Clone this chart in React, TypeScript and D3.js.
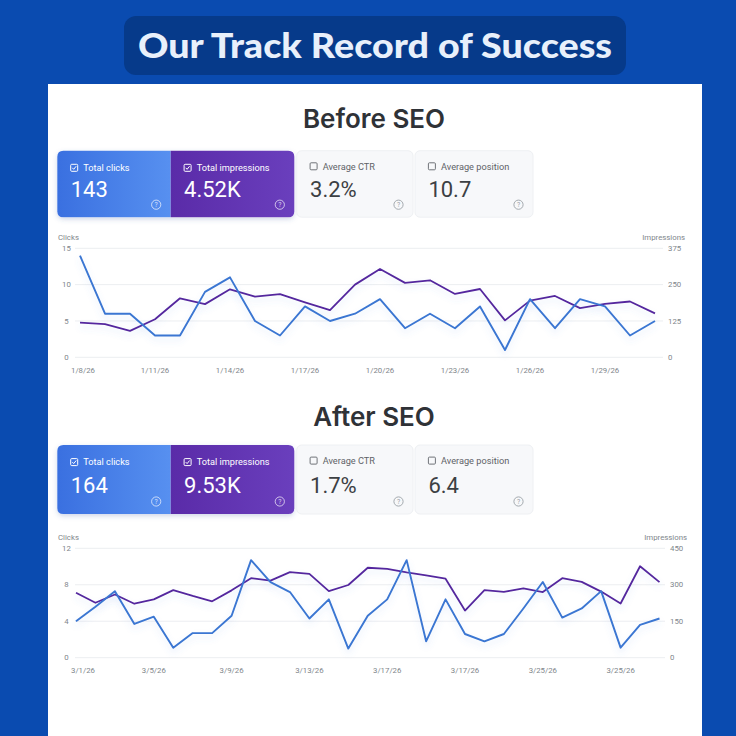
import React from "react";
import * as d3 from "d3";

// ---------- DATA ----------
const metricLabels = ["Total clicks", "Total impressions", "Average CTR", "Average position"];
const beforeValues = ["143", "4.52K", "3.2%", "10.7"];
const afterValues = ["164", "9.53K", "1.7%", "6.4"];

const beforeDates = [
  "1/8/26", "1/9/26", "1/10/26", "1/11/26", "1/12/26", "1/13/26", "1/14/26", "1/15/26",
  "1/16/26", "1/17/26", "1/18/26", "1/19/26", "1/20/26", "1/21/26", "1/22/26", "1/23/26",
  "1/24/26", "1/25/26", "1/26/26", "1/27/26", "1/28/26", "1/29/26", "1/30/26", "1/31/26",
];
const beforeClicks = [14, 6, 6, 3, 3, 9, 11, 5, 3, 7, 5, 6, 8, 4, 6, 4, 7, 1, 8, 4, 8, 7, 3, 5];
const beforeImpressions = [119, 114, 91, 131, 203, 183, 234, 209, 217, 189, 162, 250, 304, 256, 265, 218, 235, 127, 195, 211, 169, 184, 192, 151];
const beforeTickIndex = [0, 3, 6, 9, 12, 15, 18, 21];
const beforeTickLabels = ["1/8/26", "1/11/26", "1/14/26", "1/17/26", "1/20/26", "1/23/26", "1/26/26", "1/29/26"];
const beforeClickTicks = [0, 5, 10, 15];
const beforeImpTicks = [0, 125, 250, 375];

const afterDates = [
  "3/1/26", "3/2/26", "3/3/26", "3/4/26", "3/5/26", "3/6/26", "3/7/26", "3/8/26", "3/9/26", "3/10/26",
  "3/11/26", "3/12/26", "3/13/26", "3/14/26", "3/15/26", "3/16/26", "3/17/26", "3/18/26", "3/19/26", "3/20/26",
  "3/21/26", "3/22/26", "3/23/26", "3/24/26", "3/25/26", "3/26/26", "3/27/26", "3/28/26", "3/29/26", "3/30/26", "3/31/26",
];
const afterClicks = [4, 5.6, 7.3, 3.7, 4.5, 1.1, 2.7, 2.7, 4.6, 10.7, 8.3, 7.2, 4.3, 6.4, 1, 4.6, 6.4, 10.7, 1.8, 6.4, 2.6, 1.8, 2.6, 5.4, 8.3, 4.4, 5.4, 7.3, 1.1, 3.6, 4.3];
const afterImpressions = [267, 226, 260, 222, 240, 278, 254, 232, 277, 327, 317, 352, 345, 274, 299, 370, 365, 351, 339, 325, 194, 278, 271, 285, 270, 327, 312, 272, 223, 376, 311];
const afterTickIndex = [0, 4, 8, 12, 16, 20, 24, 28];
const afterTickLabels = ["3/1/26", "3/5/26", "3/9/26", "3/13/26", "3/17/26", "3/17/26", "3/25/26", "3/25/26"];
const afterClickTicks = [0, 4, 8, 12];
const afterImpTicks = [0, 150, 300, 450];

// ---------- STYLE ----------
const BLUE_LINE = "#3a76d2";
const PURPLE_LINE = "#55289e";
const AXIS_TEXT = "#80868b";
const GRID = "#eceef1";
const FONT = "Roboto, 'Noto Sans', sans-serif";

const cardX = [57.3, 170.7, 296.7, 415];
const cardW = [113.4, 123.6, 116.3, 118];

function roundedPath(x: number, y: number, w: number, h: number, rl: number, rr: number) {
  return `M${x + rl},${y} H${x + w - rr} Q${x + w},${y} ${x + w},${y + rr} V${y + h - rr} Q${x + w},${y + h} ${x + w - rr},${y + h} H${x + rl} Q${x},${y + h} ${x},${y + h - rl} V${y + rl} Q${x},${y} ${x + rl},${y} Z`;
}

function CheckBox({ x, y, checked }: { x: number; y: number; checked: boolean }) {
  const s = 7;
  return (
    <g>
      <rect x={x} y={y - s / 2} width={s} height={s} rx={1} fill="none"
        stroke={checked ? "#ffffff" : "#6f7378"} strokeWidth={1} />
      {checked && (
        <path d={`M${x + 1.6},${y} L${x + 3},${y + 1.5} L${x + 5.5},${y - 1.6}`} fill="none"
          stroke="#ffffff" strokeWidth={1} />
      )}
    </g>
  );
}

function Help({ x, y, color }: { x: number; y: number; color: string }) {
  return (
    <g>
      <circle cx={x} cy={y} r={4.6} fill="none" stroke={color} strokeWidth={0.9} />
      <text x={x} y={y + 2.4} textAnchor="middle" fontSize={6.8} fill={color} fontFamily={FONT}>?</text>
    </g>
  );
}

function Cards({ top, height, values, id }: { top: number; height: number; values: string[]; id: string }) {
  return (
    <g>
      <rect x={cardX[0]} y={top} width={cardX[1] + cardW[1] - cardX[0]} height={height} rx={6}
        fill="#fff" filter={`url(#cardShadow)`} />
      <rect x={cardX[2]} y={top} width={cardW[2]} height={height} rx={5} fill="#f7f8fa" stroke="#eef0f3" strokeWidth={1} />
      <rect x={cardX[3]} y={top} width={cardW[3]} height={height} rx={5} fill="#f7f8fa" stroke="#eef0f3" strokeWidth={1} />
      <path d={roundedPath(cardX[0], top, cardW[0], height, 6, 0)} fill={`url(#blueGrad${id})`} />
      <path d={roundedPath(cardX[1], top, cardW[1], height, 0, 6)} fill={`url(#purpleGrad${id})`} />
      {metricLabels.map((lab, i) => {
        const colored = i < 2;
        const x = cardX[i];
        const labY = top + (colored ? 20.3 : 18.8);
        return (
          <g key={lab}>
            <CheckBox x={x + 13.4} y={labY - 3.2} checked={colored} />
            <text x={x + 26} y={labY} fontSize={9.2} fontFamily={FONT}
              fill={colored ? "#ffffff" : "#5f6368"}>{lab}</text>
            <text x={x + 13.4} y={top + height * 0.7} fontSize={22} fontFamily={FONT}
              fill={colored ? "#ffffff" : "#3c4043"}>{values[i]}</text>
            <Help x={x + cardW[i] - 14.5} y={top + height - 12.5}
              color={colored ? "rgba(255,255,255,0.75)" : "#9aa0a6"} />
          </g>
        );
      })}
    </g>
  );
}

function LineChart(props: {
  dates: string[]; clicks: number[]; imps: number[]; tickIndex: number[]; tickLabels: string[];
  clickTicks: number[]; impTicks: number[]; x0: number; x1: number; yTop: number; yZero: number;
  gridLeft: number; gridRight: number;
}) {
  const { dates, clicks, imps, tickIndex, tickLabels, clickTicks, impTicks, x0, x1, yTop, yZero, gridLeft, gridRight } = props;
  const x = d3.scaleLinear().domain([0, dates.length - 1]).range([x0, x1]);
  const yL = d3.scaleLinear().domain([0, clickTicks[clickTicks.length - 1]]).range([yZero, yTop]);
  const yR = d3.scaleLinear().domain([0, impTicks[impTicks.length - 1]]).range([yZero, yTop]);
  const lineC = d3.line<number>().x((_, i) => x(i)).y((d) => yL(d));
  const lineI = d3.line<number>().x((_, i) => x(i)).y((d) => yR(d));
  return (
    <g fontFamily={FONT}>
      <text x={gridLeft - 17} y={yTop - 8.5} fontSize={7.8} fill={AXIS_TEXT}>Clicks</text>
      <text x={gridRight + 22} y={yTop - 8.5} fontSize={7.8} fill={AXIS_TEXT} textAnchor="end">Impressions</text>
      {clickTicks.map((t) => (
        <g key={"c" + t}>
          <line x1={gridLeft} x2={gridRight} y1={yL(t)} y2={yL(t)} stroke={GRID} strokeWidth={1} />
          <text x={gridLeft - 8.5} y={yL(t) + 2.7} fontSize={7.8} fill={AXIS_TEXT} textAnchor="middle">{t}</text>
        </g>
      ))}
      {impTicks.map((t) => (
        <text key={"i" + t} x={gridRight + 5} y={yR(t) + 2.7} fontSize={7.8} fill={AXIS_TEXT}>{t}</text>
      ))}
      {tickIndex.map((ti, k) => (
        <text key={"x" + k} x={k === 0 ? gridLeft - 4 : x(ti)} y={yZero + 15.5} fontSize={7.8} fill={AXIS_TEXT}
          textAnchor={k === 0 ? "start" : "middle"}>{tickLabels[k]}</text>
      ))}
      <path d={lineI(imps) || ""} fill="none" stroke={PURPLE_LINE} strokeWidth={1.8} strokeLinejoin="round" filter="url(#lineGlow)" />
      <path d={lineC(clicks) || ""} fill="none" stroke={BLUE_LINE} strokeWidth={1.9} strokeLinejoin="round" filter="url(#lineGlow)" />
    </g>
  );
}

export default function App() {
  return (
    <div style={{ position: "fixed", left: 0, top: 0, width: 736, height: 736, overflow: "hidden" }}>
      <svg width={736} height={736} viewBox="0 0 736 736" style={{ display: "block" }}>
        <defs>
          {["B", "A"].map((id) => (
            <React.Fragment key={id}>
              <linearGradient id={`blueGrad${id}`} x1="0" x2="1" y1="0" y2="0">
                <stop offset="0%" stopColor="#3a70e0" />
                <stop offset="100%" stopColor="#5790f0" />
              </linearGradient>
              <linearGradient id={`purpleGrad${id}`} x1="0" x2="1" y1="0" y2="0">
                <stop offset="0%" stopColor="#5a2ba8" />
                <stop offset="100%" stopColor="#6a3fbd" />
              </linearGradient>
            </React.Fragment>
          ))}
          <filter id="cardShadow" x="-10%" y="-20%" width="120%" height="150%">
            <feDropShadow dx={0} dy={2} stdDeviation={2.5} floodColor="#3a5aa0" floodOpacity={0.25} />
          </filter>
          <filter id="lineGlow" x="-5%" y="-20%" width="110%" height="150%">
            <feDropShadow dx={0} dy={4} stdDeviation={3} floodColor="#5a8ae0" floodOpacity={0.18} />
          </filter>
        </defs>

        <rect x={0} y={0} width={736} height={736} fill="#0a4bb0" />
        <rect x={124} y={16} width={502} height={59} rx={12} fill="#063a8a" />
        <text x={375} y={57.5} textAnchor="middle" fontSize={35} fontWeight={900}
          fontFamily="Lato, 'Open Sans', sans-serif" fill="#e8f0fb" textLength={474} lengthAdjust="spacingAndGlyphs">
          Our Track Record of Success
        </text>
        <rect x={48} y={84} width={654} height={652} fill="#ffffff" />

        <text x={374} y={127.5} textAnchor="middle" fontSize={26} fontWeight={600}
          fontFamily="Inter, Roboto, sans-serif" fill="#2f3237">Before SEO</text>
        <Cards top={150.7} height={66.5} values={beforeValues} id="B" />
        <LineChart dates={beforeDates} clicks={beforeClicks} imps={beforeImpressions}
          tickIndex={beforeTickIndex} tickLabels={beforeTickLabels}
          clickTicks={beforeClickTicks} impTicks={beforeImpTicks}
          x0={80} x1={655} yTop={248.3} yZero={357.3} gridLeft={75} gridRight={663} />

        <text x={374} y={425.5} textAnchor="middle" fontSize={26} fontWeight={600}
          fontFamily="Inter, Roboto, sans-serif" fill="#2f3237">After SEO</text>
        <Cards top={445} height={69} values={afterValues} id="A" />
        <LineChart dates={afterDates} clicks={afterClicks} imps={afterImpressions}
          tickIndex={afterTickIndex} tickLabels={afterTickLabels}
          clickTicks={afterClickTicks} impTicks={afterImpTicks}
          x0={76} x1={659.5} yTop={548.3} yZero={657.7} gridLeft={75} gridRight={665} />
      </svg>
    </div>
  );
}
